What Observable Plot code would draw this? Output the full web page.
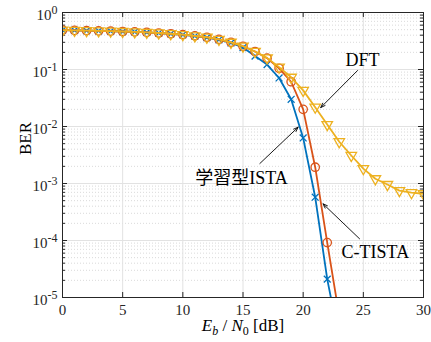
<!DOCTYPE html>
<html><head><meta charset="utf-8">
<script src="https://cdn.jsdelivr.net/npm/d3@7"></script>
<script src="https://cdn.jsdelivr.net/npm/@observablehq/plot@0.6"></script>
<style>body{margin:0;background:#fff}svg{display:block}</style>
</head><body><div id="chart"></div>
<script>
const snr = [0,1,2,3,4,5,6,7,8,9,10,11,12,13,14,15,16,17,18,19,20,21,22,23,24,25,26,27,28,29,30];
const berISTA = [0.49,0.485,0.48,0.475,0.47,0.464,0.457,0.448,0.436,0.422,0.406,0.386,0.362,0.332,0.292,0.243,0.172,0.122,0.071,0.030,0.0063,0.000575,0.000021,0.0000018];
const berCTISTA = [0.49,0.485,0.48,0.475,0.47,0.464,0.457,0.448,0.437,0.424,0.41,0.39,0.368,0.338,0.30,0.256,0.207,0.158,0.105,0.061,0.020,0.00193,0.000092,0.0000047];
const berDFT = [0.49,0.485,0.48,0.475,0.47,0.464,0.457,0.448,0.437,0.424,0.41,0.39,0.368,0.338,0.30,0.256,0.207,0.16,0.11,0.073,0.043,0.0218,0.0108,0.0054,0.0031,0.00182,0.00121,0.00096,0.00075,0.00069,0.00066];
const seriesNames = ["学習型ISTA","C-TISTA","DFT"];
const seriesColors = ["#0072BD","#D95319","#EDB120"];
const xTicks = [0,5,10,15,20,25,30];
const yTicks = [1e-5,1e-4,1e-3,1e-2,1e-1,1];
const minorY = [];
for (let e = -5; e < 0; e++) for (let m = 2; m <= 9; m++) minorY.push(m * Math.pow(10, e));
// annotations (data coordinates)
const annoLabels = ["DFT","学習型ISTA","C-TISTA"];
const annoTextX = [24.94,14.87,26.0];
const annoTextY = [0.144,0.00125,0.000062];
const arrowX1 = [24.52,16.4,24.69];
const arrowY1 = [0.096,0.00224,0.000107];
const arrowX2 = [21.46,19.58,21.65];
const arrowY2 = [0.0215,0.00973,0.00044];
const xLabel = "E_b / N_0 [dB]";
const yLabel = "BER";

const rows = [];
[berISTA, berCTISTA, berDFT].forEach((arr, s) => arr.forEach((v, i) => rows.push({x: snr[i], y: v, s: seriesNames[s]})));
const anno = annoLabels.map((t, i) => ({t, tx: annoTextX[i], ty: annoTextY[i], x1: arrowX1[i], y1: arrowY1[i], x2: arrowX2[i], y2: arrowY2[i]}));

const W = 431, H = 342, mL = 62, mR = 8, mT = 12, mB = 45;
const pw = W - mL - mR, ph = H - mT - mB;
const serif = "Liberation Serif, Times New Roman, Noto Sans CJK JP, serif";
const bySeries = n => rows.filter(d => d.s === n);

const plot = Plot.plot({
  width: W, height: H,
  marginLeft: mL, marginRight: mR, marginTop: mT, marginBottom: mB,
  style: {fontFamily: serif, background: "#fff"},
  x: {domain: [0, 30], ticks: xTicks},
  y: {type: "log", domain: [1e-5, 1], ticks: yTicks},
  marks: [
    Plot.ruleY(minorY, {stroke: "#cfcfcf", strokeDasharray: "1,2", strokeWidth: 0.8}),
    Plot.ruleY(yTicks.slice(1, -1), {stroke: "#e2e2e2", strokeWidth: 1}),
    Plot.ruleX(xTicks.slice(1, -1), {stroke: "#e2e2e2", strokeWidth: 1}),
    // inward ticks
    Plot.ruleY(yTicks, {stroke: "#262626", insetRight: pw - 5}),
    Plot.ruleY(yTicks, {stroke: "#262626", insetLeft: pw - 5}),
    Plot.ruleY(minorY, {stroke: "#262626", insetRight: pw - 3}),
    Plot.ruleY(minorY, {stroke: "#262626", insetLeft: pw - 3}),
    Plot.ruleX(xTicks, {stroke: "#262626", insetTop: ph - 5}),
    Plot.ruleX(xTicks, {stroke: "#262626", insetBottom: ph - 5}),
    Plot.axisX({ticks: xTicks, tickSize: 0, tickPadding: 7, fontSize: 15, label: null, color: "#262626"}),
    Plot.axisY({ticks: yTicks, tickSize: 0, tickPadding: 5, dy: 3, fontSize: 15, label: null, color: "#262626",
      tickFormat: d => "10^" + Math.round(Math.log10(d))}),
    // series (DFT drawn last, on top)
    Plot.line(bySeries(seriesNames[0]), {x: "x", y: "y", stroke: seriesColors[0], strokeWidth: 1.8, clip: true}),
    Plot.dot(bySeries(seriesNames[0]), {x: "x", y: "y", stroke: seriesColors[0], symbol: "times", r: 3.2, strokeWidth: 1.3, clip: true}),
    Plot.line(bySeries(seriesNames[1]), {x: "x", y: "y", stroke: seriesColors[1], strokeWidth: 1.8, clip: true}),
    Plot.dot(bySeries(seriesNames[1]), {x: "x", y: "y", stroke: seriesColors[1], symbol: "circle", r: 4.2, strokeWidth: 1.3, clip: true}),
    Plot.line(bySeries(seriesNames[2]), {x: "x", y: "y", stroke: seriesColors[2], strokeWidth: 1.8, clip: true}),
    Plot.dot(bySeries(seriesNames[2]), {x: "x", y: "y", stroke: seriesColors[2], symbol: "triangle", rotate: 180, r: 3.9, strokeWidth: 1.3, clip: true}),
    // annotations
    Plot.arrow(anno, {x1: "x1", y1: "y1", x2: "x2", y2: "y2", stroke: "#000", strokeWidth: 0.9, headLength: 8, headAngle: 40}),
    Plot.text(anno, {x: "tx", y: "ty", text: "t", fontSize: 18, fill: "#000", fontFamily: serif}),
    Plot.frame({stroke: "#262626", strokeWidth: 1}),
    Plot.text([xLabel], {frameAnchor: "bottom", dy: 33, text: d => d, fontSize: 17, fill: "#000"}),
    Plot.text([yLabel], {frameAnchor: "left", dx: -37, rotate: -90, text: d => d, fontSize: 17, fill: "#000"})
  ]
});

const svg = d3.select(plot);
svg.selectAll('g[aria-label="y-axis tick label"] text').each(function() {
  const t = d3.select(this);
  const e = t.text().split("^")[1];
  t.text("10");
  t.append("tspan").attr("dy", "-0.55em").attr("font-size", "12px").text(e);
});
svg.selectAll("text").filter(function() { return this.textContent === xLabel; }).each(function() {
  const t = d3.select(this);
  t.text(null);
  t.append("tspan").attr("font-style", "italic").text("E");
  t.append("tspan").attr("font-style", "italic").attr("font-size", "12px").attr("dy", 4).text("b");
  t.append("tspan").attr("dy", -4).text(" / ");
  t.append("tspan").attr("font-style", "italic").text("N");
  t.append("tspan").attr("font-size", "12px").attr("dy", 4).text("0");
  t.append("tspan").attr("dy", -4).text(" [dB]");
});
document.getElementById("chart").append(plot);
</script>
</body></html>
